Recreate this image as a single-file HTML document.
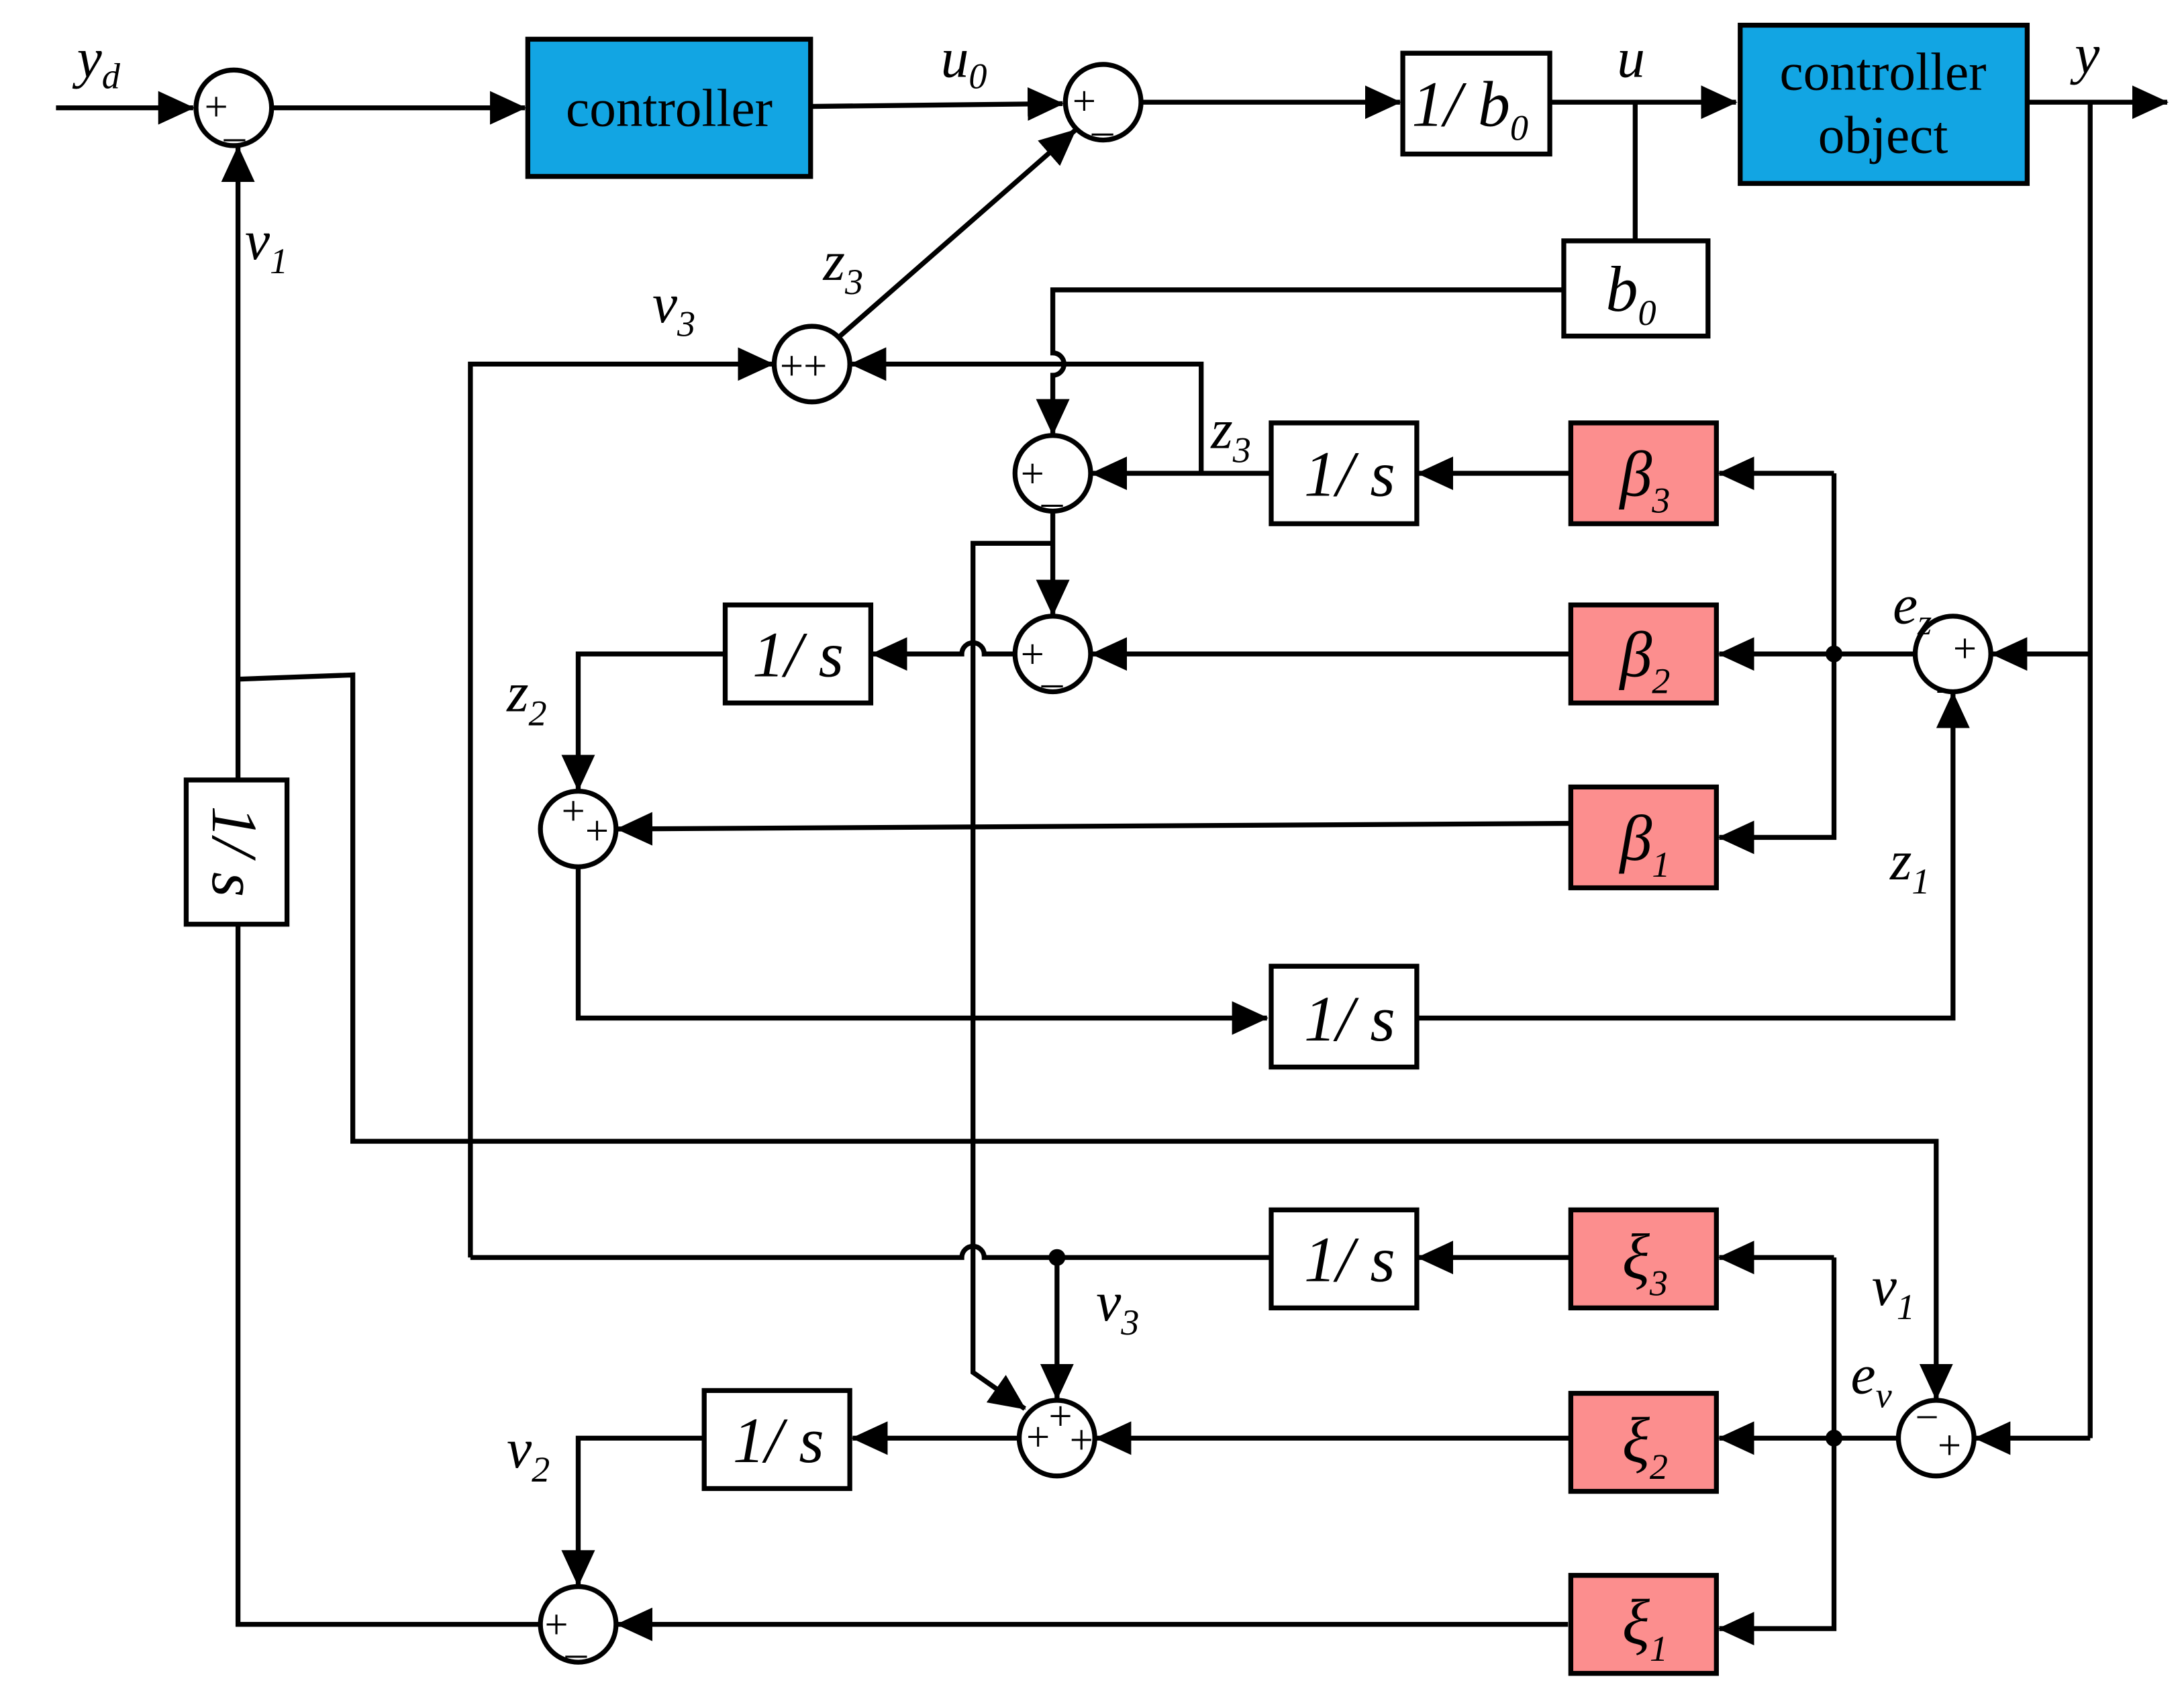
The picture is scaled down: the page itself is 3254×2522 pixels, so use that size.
<!DOCTYPE html>
<html><head><meta charset="utf-8"><style>
html,body{margin:0;padding:0;background:#fff;}
svg{display:block;}
text{font-family:"Liberation Serif",serif;fill:#000;}
.lbl{font-style:italic;font-size:40px;}
.sub{font-style:italic;font-size:26px;}
.box{font-style:italic;font-size:46px;}
.sg{font-family:"Liberation Sans",sans-serif;font-size:30px;}
.ct{font-family:"Liberation Serif",serif;font-size:38px;}
</style></head><body>
<svg width="3254" height="2522" viewBox="0 0 1560 1209" preserveAspectRatio="none" xmlns="http://www.w3.org/2000/svg">
<defs>
<marker id="a" markerUnits="userSpaceOnUse" markerWidth="26" markerHeight="24" refX="25" refY="12" orient="auto">
<path d="M0,0 L26,12 L0,24 Z" fill="#000"/></marker>
</defs>
<g stroke="#000" stroke-width="3.5" fill="none">
<path d="M40,77 H138" marker-end="url(#a)"/>
<path d="M194,77 H375" marker-end="url(#a)"/>
<path d="M579,76 L759,74" marker-end="url(#a)"/>
<path d="M815,73 H1000" marker-end="url(#a)"/>
<path d="M1107,73 H1240" marker-end="url(#a)"/>
<path d="M1168,73 V172"/>
<path d="M1448,73 H1548" marker-end="url(#a)"/>
<path d="M1493,73 V1027"/>
<path d="M1117,207 H752 V252 A8,8 0 0 1 752,268 V310" marker-end="url(#a)"/>
<path d="M336,898 V260 H552" marker-end="url(#a)"/>
<path d="M858,338 V260 H608" marker-end="url(#a)"/>
<path d="M600,240 L768,93" marker-end="url(#a)"/>
<path d="M908,338 H780" marker-end="url(#a)"/>
<path d="M1122,338 H1013" marker-end="url(#a)"/>
<path d="M1310,338 H1228" marker-end="url(#a)"/>
<path d="M1310,338 V598 H1228" marker-end="url(#a)"/>
<path d="M1368,467 H1228" marker-end="url(#a)"/>
<path d="M1493,467 H1423" marker-end="url(#a)"/>
<path d="M1012,727 H1395 V495" marker-end="url(#a)"/>
<path d="M752,365 V439" marker-end="url(#a)"/>
<path d="M1122,467 H780" marker-end="url(#a)"/>
<path d="M725,467 H703 A8,8 0 0 0 687,467 H623" marker-end="url(#a)"/>
<path d="M752,388 H695 V980 L732,1006" marker-end="url(#a)"/>
<path d="M518,467 H413 V564" marker-end="url(#a)"/>
<path d="M1122,588 L441,592" marker-end="url(#a)"/>
<path d="M413,619 V727 H905" marker-end="url(#a)"/>
<path d="M170,557 V105" marker-end="url(#a)"/>
<path d="M170,485 L252,482 V815 H1383 V999" marker-end="url(#a)"/>
<path d="M170,660 V1160 H386"/>
<path d="M1122,898 H1013" marker-end="url(#a)"/>
<path d="M908,898 H703 A8,8 0 0 0 687,898 H336"/>
<path d="M755,898 V999" marker-end="url(#a)"/>
<path d="M1310,898 H1228" marker-end="url(#a)"/>
<path d="M1310,898 V1163 H1228" marker-end="url(#a)"/>
<path d="M1356,1027 H1228" marker-end="url(#a)"/>
<path d="M1493,1027 H1411" marker-end="url(#a)"/>
<path d="M1122,1027 H783" marker-end="url(#a)"/>
<path d="M728,1027 H609" marker-end="url(#a)"/>
<path d="M503,1027 H413 V1132" marker-end="url(#a)"/>
<path d="M1120,1160 H441" marker-end="url(#a)"/>
</g>
<g fill="#000"><circle cx="1310" cy="467" r="6"/><circle cx="1310" cy="1027" r="6"/><circle cx="755" cy="898" r="6"/></g>
<g stroke="#000" stroke-width="3.5">
<rect x="377" y="28" width="202" height="98" fill="#12a5e3"/>
<rect x="1243" y="18" width="205" height="113" fill="#12a5e3"/>
<rect x="1002" y="38" width="105" height="72" fill="#fff"/>
<rect x="1117" y="172" width="103" height="68" fill="#fff"/>
<rect x="908" y="302" width="104" height="72" fill="#fff"/>
<rect x="518" y="432" width="104" height="70" fill="#fff"/>
<rect x="908" y="690" width="104" height="72" fill="#fff"/>
<rect x="908" y="864" width="104" height="70" fill="#fff"/>
<rect x="503" y="993" width="104" height="70" fill="#fff"/>
<rect x="133" y="557" width="72" height="103" fill="#fff"/>
<g fill="#fc8e8e">
<rect x="1122" y="302" width="104" height="72"/>
<rect x="1122" y="432" width="104" height="70"/>
<rect x="1122" y="562" width="104" height="72"/>
<rect x="1122" y="864" width="104" height="70"/>
<rect x="1122" y="995" width="104" height="70"/>
<rect x="1122" y="1125" width="104" height="70"/>
</g>
</g>
<g stroke="#000" stroke-width="3.5" fill="#fff">
<circle cx="167" cy="77" r="27"/><circle cx="788" cy="73" r="27"/>
<circle cx="580" cy="260" r="27"/><circle cx="752" cy="338" r="27"/>
<circle cx="752" cy="467" r="27"/><circle cx="1395" cy="467" r="27"/>
<circle cx="413" cy="592" r="27"/><circle cx="755" cy="1027" r="27"/>
<circle cx="1383" cy="1027" r="27"/><circle cx="413" cy="1160" r="27"/>
</g>
<g class="sg">
<text x="146" y="86">+</text><text x="160" y="97">_</text>
<text x="766" y="82">+</text><text x="780" y="93">_</text>
<text x="557" y="271">++</text>
<text x="729" y="348">+</text><text x="744" y="358">_</text>
<text x="729" y="477">+</text><text x="744" y="487">_</text>
<text x="1395" y="473">+</text><text x="1384" y="491">_</text>
<text x="401" y="589">+</text><text x="418" y="603">+</text>
<text x="733" y="1036">+</text><text x="749" y="1021">+</text><text x="764" y="1038">+</text>
<text x="1368" y="1022">−</text><text x="1384" y="1042">+</text>
<text x="389" y="1170">+</text><text x="404" y="1180">_</text>
</g>
<g class="ct" text-anchor="middle">
<text x="478" y="90">controller</text>
<text x="1345" y="64">controller</text>
<text x="1345" y="109">object</text>
</g>
<g class="box" text-anchor="middle">
<text x="1050" y="90">1/ b<tspan class="sub" dy="10">0</tspan></text>
<text x="1165" y="222">b<tspan class="sub" dy="10">0</tspan></text>
<text x="964" y="354">1/ s</text>
<text x="570" y="483">1/ s</text>
<text x="964" y="743">1/ s</text>
<text x="964" y="915">1/ s</text>
<text x="556" y="1044">1/ s</text>
<text transform="translate(152,608) rotate(90)">1/ s</text>
<text x="1175" y="354">β<tspan class="sub" dy="12">3</tspan></text>
<text x="1175" y="483">β<tspan class="sub" dy="12">2</tspan></text>
<text x="1175" y="614">β<tspan class="sub" dy="12">1</tspan></text>
<text x="1175" y="913">ξ<tspan class="sub" dy="12">3</tspan></text>
<text x="1175" y="1044">ξ<tspan class="sub" dy="12">2</tspan></text>
<text x="1175" y="1174">ξ<tspan class="sub" dy="12">1</tspan></text>
</g>
<g class="lbl">
<text x="55" y="55">y<tspan class="sub" dy="8">d</tspan></text>
<text x="672" y="55">u<tspan class="sub" dy="8">0</tspan></text>
<text x="1155" y="55">u</text>
<text x="1482" y="52">y</text>
<text x="175" y="185">v<tspan class="sub" dy="10">1</tspan></text>
<text x="588" y="200">z<tspan class="sub" dy="10">3</tspan></text>
<text x="466" y="230">v<tspan class="sub" dy="10">3</tspan></text>
<text x="865" y="320">z<tspan class="sub" dy="10">3</tspan></text>
<text x="362" y="508">z<tspan class="sub" dy="10">2</tspan></text>
<text x="1352" y="445">e<tspan class="sub" dy="8">z</tspan></text>
<text x="1350" y="628">z<tspan class="sub" dy="10">1</tspan></text>
<text x="783" y="943">v<tspan class="sub" dy="10">3</tspan></text>
<text x="1337" y="932">v<tspan class="sub" dy="10">1</tspan></text>
<text x="1322" y="995">e<tspan class="sub" dy="10">v</tspan></text>
<text x="362" y="1048">v<tspan class="sub" dy="10">2</tspan></text>
</g>
</svg>
</body></html>
